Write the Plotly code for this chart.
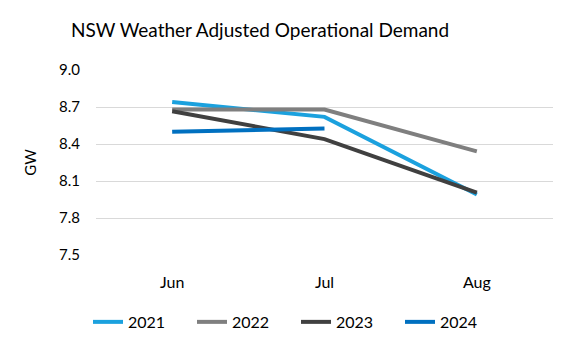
import plotly.graph_objects as go

months = ["Jun", "Jul", "Aug"]
years = ["2021", "2022", "2023", "2024"]
v2021 = [8.74, 8.62, 7.99]
v2022 = [8.68, 8.68, 8.34]
v2023 = [8.665, 8.44, 8.005]
v2024 = [8.50, 8.525]
colors = ["#1BA1DE", "#7F7F7F", "#404040", "#0070C0"]
series = [v2021, v2022, v2023, v2024]

fig = go.Figure()
for name, vals, col in zip(years, series, colors):
    fig.add_trace(go.Scatter(
        x=months[:len(vals)], y=vals, name=name, mode="lines",
        line=dict(color=col, width=4),
    ))

fig.update_layout(
    width=576, height=352,
    margin=dict(l=96, r=23, t=70, b=97),
    paper_bgcolor="white", plot_bgcolor="white",
    font=dict(family="Lato, Carlito, sans-serif", size=14, color="#000000"),
    title=dict(text="NSW Weather Adjusted Operational Demand",
               x=260/576, xanchor="center", y=1 - 30/352, yanchor="middle",
               font=dict(size=19, color="#000000")),
    showlegend=True,
    legend=dict(orientation="h", x=-0.0175, xanchor="left", y=-0.362, yanchor="middle",
                font=dict(size=16), entrywidth=59, entrywidthmode="pixels",
                traceorder="normal"),
    xaxis=dict(type="category", categoryorder="array", categoryarray=months,
               range=[-0.5, 2.5], showgrid=False, zeroline=False, showline=False,
               ticks="outside", ticklen=13, tickcolor="rgba(0,0,0,0)",
               tickfont=dict(size=16)),
    yaxis=dict(range=[7.5, 9.0], tickvals=[7.5, 7.8, 8.1, 8.4, 8.7, 9.0],
               ticktext=["7.5", "7.8", "8.1", "8.4", "8.7", "9.0"],
               showgrid=True, gridcolor="#D9D9D9", gridwidth=1.3, zeroline=False,
               showline=False, ticks="outside", ticklen=12, tickcolor="rgba(0,0,0,0)",
               tickfont=dict(size=15),
               title=dict(text="GW", font=dict(size=15), standoff=18)),
)

fig.write_html("out.html")
